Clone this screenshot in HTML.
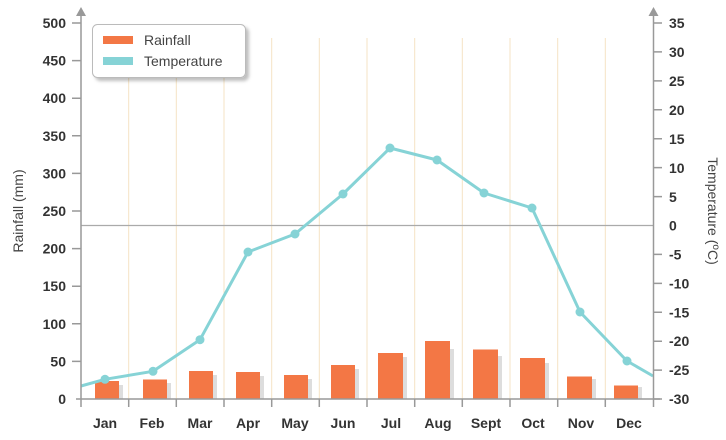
<!DOCTYPE html>
<html><head><meta charset="utf-8"><style>
html,body{margin:0;padding:0;background:#fff;}
svg{display:block;font-family:"Liberation Sans",Arial,sans-serif;}
</style></head><body>
<svg width="726" height="440" viewBox="0 0 726 440" xmlns="http://www.w3.org/2000/svg">
<defs><filter id="sh" x="-10%" y="-10%" width="130%" height="140%"><feDropShadow dx="3" dy="3" stdDeviation="1.5" flood-color="#000" flood-opacity="0.25"/></filter></defs>
<g stroke="#f5e3c4" stroke-width="1">
<line x1="128.7" y1="38" x2="128.7" y2="399"/><line x1="176.3" y1="38" x2="176.3" y2="399"/>
<line x1="224" y1="38" x2="224" y2="399"/><line x1="271.7" y1="38" x2="271.7" y2="399"/>
<line x1="319.3" y1="38" x2="319.3" y2="399"/><line x1="367" y1="38" x2="367" y2="399"/>
<line x1="414.7" y1="38" x2="414.7" y2="399"/><line x1="462.3" y1="38" x2="462.3" y2="399"/>
<line x1="510" y1="38" x2="510" y2="399"/><line x1="557.7" y1="38" x2="557.7" y2="399"/>
<line x1="605.3" y1="38" x2="605.3" y2="399"/>
</g>
<line x1="81" y1="225.5" x2="653" y2="225.5" stroke="#aaa" stroke-width="1.3"/>
<g>
<rect x="99" y="385" width="24" height="14" fill="#ddd"/><rect x="95" y="381" width="24" height="18" fill="#f37745"/>
<rect x="147" y="383" width="24" height="16" fill="#ddd"/><rect x="143" y="379.5" width="24" height="19.5" fill="#f37745"/>
<rect x="193" y="375" width="24" height="24" fill="#ddd"/><rect x="189" y="371" width="24" height="28" fill="#f37745"/>
<rect x="240" y="376" width="24" height="23" fill="#ddd"/><rect x="236" y="372" width="24" height="27" fill="#f37745"/>
<rect x="288" y="379" width="24" height="20" fill="#ddd"/><rect x="284" y="375" width="24" height="24" fill="#f37745"/>
<rect x="335" y="369" width="24" height="30" fill="#ddd"/><rect x="331" y="365" width="24" height="34" fill="#f37745"/>
<rect x="382" y="357" width="25" height="42" fill="#ddd"/><rect x="378" y="353" width="25" height="46" fill="#f37745"/>
<rect x="429" y="349" width="25" height="50" fill="#ddd"/><rect x="425" y="341" width="25" height="58" fill="#f37745"/>
<rect x="477" y="356" width="25" height="43" fill="#ddd"/><rect x="473" y="349.5" width="25" height="49.5" fill="#f37745"/>
<rect x="524" y="363" width="25" height="36" fill="#ddd"/><rect x="520" y="358" width="25" height="41" fill="#f37745"/>
<rect x="571" y="379" width="25" height="20" fill="#ddd"/><rect x="567" y="376.5" width="25" height="22.5" fill="#f37745"/>
<rect x="618" y="387" width="24" height="12" fill="#ddd"/><rect x="614" y="385.5" width="24" height="13.5" fill="#f37745"/>
</g>
<polyline fill="none" stroke="#86d3d6" stroke-width="3" stroke-linejoin="round" points="81,386 105,379.3 153,371.3 200,339.7 248,252 295,234 343,194 390,148 437,160 484,193 532,208 580,312 627,361 653,376"/>
<g fill="#86d3d6">
<circle cx="105" cy="379.3" r="4.5"/><circle cx="153" cy="371.3" r="4.5"/><circle cx="200" cy="339.7" r="4.5"/>
<circle cx="248" cy="252" r="4.5"/><circle cx="295" cy="234" r="4.5"/><circle cx="343" cy="194" r="4.5"/>
<circle cx="390" cy="148" r="4.5"/><circle cx="437" cy="160" r="4.5"/><circle cx="484" cy="193" r="4.5"/>
<circle cx="532" cy="208" r="4.5"/><circle cx="580" cy="312" r="4.5"/><circle cx="627" cy="361" r="4.5"/>
</g>
<g stroke="#999" stroke-width="1.5" fill="none">
<line x1="81" y1="14" x2="81" y2="407"/><line x1="653.5" y1="14" x2="653.5" y2="407"/>
<line x1="76" y1="399" x2="660" y2="399"/>
<path d="M72,23H81M72,60.6H81M72,98.2H81M72,135.8H81M72,173.4H81M72,211H81M72,248.6H81M72,286.2H81M72,323.8H81M72,361.4H81"/>
<path d="M653,23H662M653,51.9H662M653,80.9H662M653,109.8H662M653,138.7H662M653,167.6H662M653,196.6H662M653,254.4H662M653,283.4H662M653,312.3H662M653,341.2H662M653,370.1H662M653,399H662"/>
<path d="M128.7,399V407M176.3,399V407M224,399V407M271.7,399V407M319.3,399V407M367,399V407M414.7,399V407M462.3,399V407M510,399V407M557.7,399V407M605.3,399V407"/>
</g>
<path d="M76,16L81,7L86,16Z" fill="#999"/><path d="M648.5,16L653.5,7L658.5,16Z" fill="#999"/>
<g font-size="14" font-weight="bold" fill="#333" text-anchor="end">
<text x="66" y="28">500</text><text x="66" y="65.6">450</text><text x="66" y="103.2">400</text><text x="66" y="140.8">350</text>
<text x="66" y="178.4">300</text><text x="66" y="216">250</text><text x="66" y="253.6">200</text><text x="66" y="291.2">150</text>
<text x="66" y="328.8">100</text><text x="66" y="366.4">50</text><text x="66" y="404">0</text>
</g>
<g font-size="14" font-weight="bold" fill="#333" text-anchor="start">
<text x="669" y="28">35</text><text x="669" y="57">30</text><text x="669" y="86">25</text><text x="669" y="115">20</text>
<text x="669" y="144">15</text><text x="669" y="173">10</text><text x="669" y="202">5</text><text x="669" y="230.5">0</text>
<text x="669" y="259.5">-5</text><text x="669" y="288.5">-10</text><text x="669" y="317.5">-15</text><text x="669" y="346">-20</text>
<text x="669" y="375">-25</text><text x="669" y="404">-30</text>
</g>
<g font-size="14" font-weight="bold" fill="#333" text-anchor="middle">
<text x="105" y="428">Jan</text><text x="152" y="428">Feb</text><text x="200" y="428">Mar</text><text x="248" y="428">Apr</text>
<text x="295" y="428">May</text><text x="343" y="428">Jun</text><text x="391" y="428">Jul</text><text x="438" y="428">Aug</text>
<text x="486" y="428">Sept</text><text x="533" y="428">Oct</text><text x="581" y="428">Nov</text><text x="629" y="428">Dec</text>
</g>
<text transform="translate(23,211) rotate(-90)" font-size="14" fill="#444" text-anchor="middle">Rainfall (mm)</text>
<text transform="translate(708,211) rotate(90)" font-size="14" fill="#444" text-anchor="middle">Temperature (<tspan font-size="10" dy="-5">o</tspan><tspan dy="5">C)</tspan></text>
<rect x="92.5" y="24.5" width="153" height="53" rx="5" fill="#fff" stroke="#bbb" stroke-width="1" filter="url(#sh)"/>
<rect x="103" y="36" width="30" height="8" fill="#f37745"/>
<rect x="103" y="57" width="30" height="8" fill="#86d3d6"/>
<text x="144" y="45" font-size="14" fill="#444">Rainfall</text>
<text x="144" y="66" font-size="14" fill="#444">Temperature</text>
</svg>
</body></html>
